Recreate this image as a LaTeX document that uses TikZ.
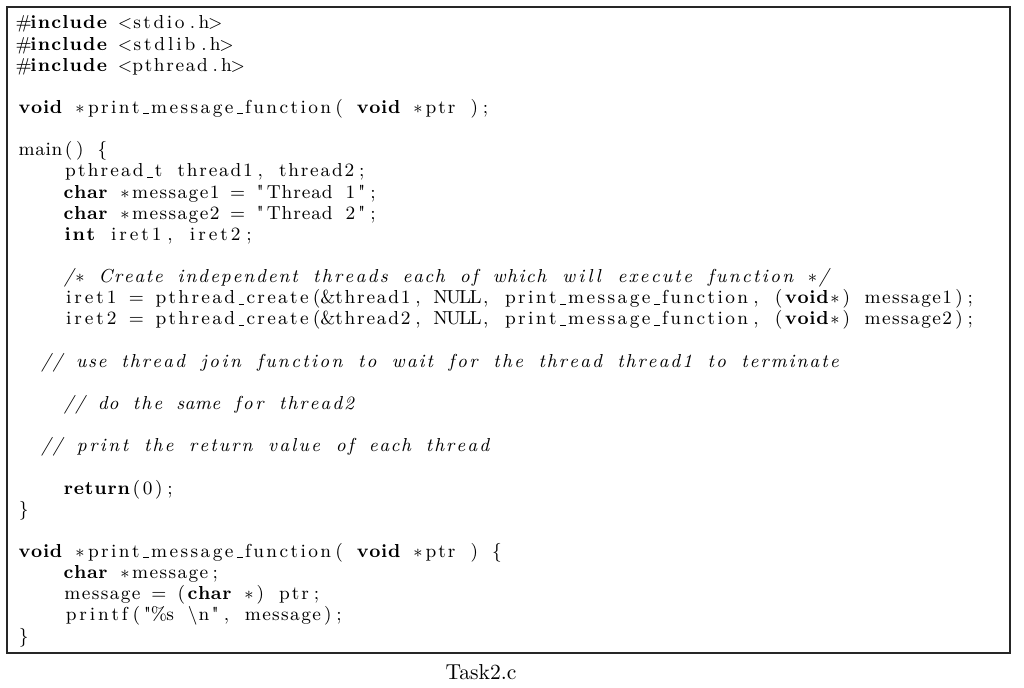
\documentclass[tikz,border=0pt]{standalone}
\usepackage{fontspec}
\newcommand\SP{}
\newcommand\US{\kern.06em\rule[-0.45pt]{0.3em}{0.55pt}}
\newcommand\Ast{\ensuremath{\ast}}
\newcommand\Lt{\ensuremath{<}}
\newcommand\Gt{\ensuremath{>}}
\newcommand\BS{\textbackslash}
\newcommand\Q{\XeTeXglyph\XeTeXcharglyph34\relax}
\ExplSyntaxOn
\dim_new:N \l_cw_dim
\dim_set:Nn \l_cw_dim {5.635pt}
\tl_new:N \l_cline_tl
\tl_new:N \l_clword_tl
\int_new:N \l_cln_int
\bool_new:N \l_clword_bool
\cs_new_protected:Npn \cl_flush:
  {
    \int_compare:nNnT \l_cln_int > 0
      {
        \hbox_to_wd:nn { \l_cw_dim * \l_cln_int }
          { \hss \tl_map_inline:Nn \l_clword_tl { ##1 \hss } }
      }
    \tl_clear:N \l_clword_tl
    \int_zero:N \l_cln_int
  }
\NewDocumentCommand\C{m}{
  \tl_set:Nn \l_cline_tl {#1}
  \tl_replace_all:Nnn \l_cline_tl {~} {\SP}
  \tl_clear:N \l_clword_tl
  \int_zero:N \l_cln_int
  \tl_map_inline:Nn \l_cline_tl
    {
      \bool_set_false:N \l_clword_bool
      \token_if_letter:NT ##1 { \bool_set_true:N \l_clword_bool }
      \tl_if_in:nnT {0123456789} {##1} { \bool_set_true:N \l_clword_bool }
      \token_if_eq_meaning:NNT ##1 \US { \bool_set_true:N \l_clword_bool }
      \bool_if:NTF \l_clword_bool
        { \tl_put_right:Nn \l_clword_tl {##1} \int_incr:N \l_cln_int }
        { \cl_flush: \hbox_to_wd:nn {\l_cw_dim} {\hss ##1 \hss} }
    }
  \cl_flush:
}
\ExplSyntaxOff
\newcommand\K[1]{{\bfseries\C{#1}}}
\newcommand\I[1]{{\itshape\C{#1}}}
\newcommand\codefont{\fontsize{9.4}{11}\selectfont}
\tikzset{
  codeline/.style={anchor=base west, inner sep=0pt, outer sep=0pt, font=\codefont},
  framebox/.style={draw=black!85, line width=0.65pt},
  captext/.style={anchor=base, inner sep=0pt, font=\fontsize{10.8}{13}\selectfont}
}
\newcommand\Ln[4]{\node[codeline] (#1) at ({9pt+#2*5.635pt},{-14.5pt-#3*10.57pt}) {#4};}
\begin{document}
\begin{tikzpicture}
\useasboundingbox (0,0) rectangle (512pt,-344pt);
\draw[framebox] (3.5pt,-3.5pt) rectangle (505pt,-326.5pt);
\Ln{l1}{0}{0}{\C{\#}\K{include}\C{ \Lt stdio.h\Gt}}
\Ln{l2}{0}{1}{\C{\#}\K{include}\C{ \Lt stdlib.h\Gt}}
\Ln{l3}{0}{2}{\C{\#}\K{include}\C{ \Lt pthread.h\Gt}}
\Ln{l5}{0}{4}{\K{void}\C{ \Ast print\US message\US function( }\K{void}\C{ \Ast ptr );}}
\Ln{l7}{0}{6}{\C{main() \{}}
\Ln{l8}{4}{7}{\C{pthread\US t thread1, thread2;}}
\Ln{l9}{4}{8}{\K{char}\C{ \Ast message1 = \Q Thread 1\Q;}}
\Ln{l10}{4}{9}{\K{char}\C{ \Ast message2 = \Q Thread 2\Q;}}
\Ln{l11}{4}{10}{\K{int}\C{ iret1, iret2;}}
\Ln{l13}{4}{12}{\I{/\Ast}\I{ Create independent threads each of which will execute function \Ast/}}
\Ln{l14}{4}{13}{\C{iret1 = pthread\US create(\&thread1, NULL, print\US message\US function, (}\K{void}\C{\Ast) message1);}}
\Ln{l15}{4}{14}{\C{iret2 = pthread\US create(\&thread2, NULL, print\US message\US function, (}\K{void}\C{\Ast) message2);}}
\Ln{l17}{2}{16}{\I{// use thread join function to wait for the thread thread1 to terminate}}
\Ln{l19}{4}{18}{\I{// do the same for thread2}}
\Ln{l21}{2}{20}{\I{// print the return value of each thread}}
\Ln{l23}{4}{22}{\K{return}\C{(0);}}
\Ln{l24}{0}{23}{\C{\}}}
\Ln{l26}{0}{25}{\K{void}\C{ \Ast print\US message\US function( }\K{void}\C{ \Ast ptr ) \{}}
\Ln{l27}{4}{26}{\K{char}\C{ \Ast message;}}
\Ln{l28}{4}{27}{\C{message = (}\K{char}\C{ \Ast) ptr;}}
\Ln{l29}{4}{28}{\C{printf(\Q\%s \BS n\Q, message);}}
\Ln{l30}{0}{29}{\C{\}}}
\node[captext] (cap) at (240.5pt,-340pt) {Task2.c};
\end{tikzpicture}
\end{document}
